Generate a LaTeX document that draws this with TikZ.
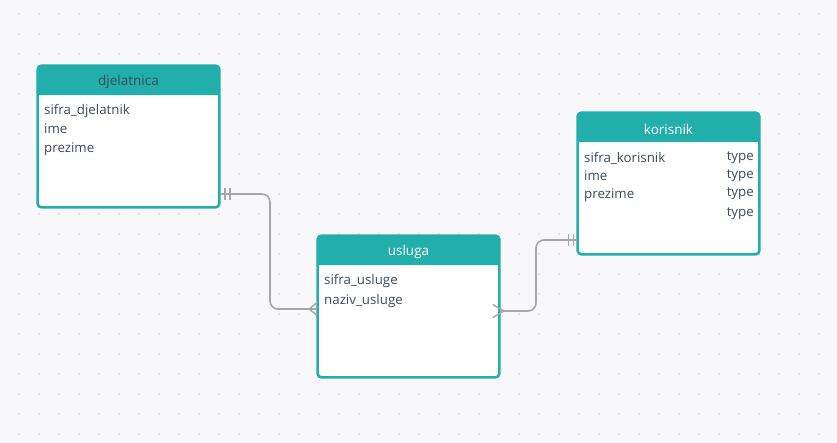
\documentclass[tikz,border=0pt]{standalone}
\usepackage{fontspec}
\setmainfont{Open Sans}
\begin{document}
\definecolor{bgcol}{HTML}{F8F8FA}
\definecolor{dotcol}{HTML}{DCDDE2}
\definecolor{tealc}{HTML}{22AFAB}
\definecolor{txtc}{HTML}{3D4A5C}
\definecolor{linkc}{HTML}{A6A6A6}
\begin{tikzpicture}[x=1pt,y=-1pt,
  entity/.style={draw=tealc, line width=1.6pt, rounded corners=4pt, fill=white,
    minimum width=181pt, minimum height=141pt, inner sep=0pt},
  title/.style={font=\fontsize{13.5}{15}\selectfont, text=white},
  field/.style={font=\fontsize{13.3}{15}\selectfont, text=txtc, anchor=west, inner sep=0pt},
  ftype/.style={font=\fontsize{13.3}{15}\selectfont, text=txtc, anchor=east, inner sep=0pt},
  link/.style={draw=linkc, line width=1.6pt, rounded corners=8pt},
  tick/.style={draw=linkc, line width=1.4pt}]
% canvas and dot grid
\fill[bgcol] (0,0) rectangle (837,443);
\useasboundingbox (0,0) rectangle (837,443);
\foreach \gx in {19,39,...,839} {
  \foreach \gy in {14,34,...,434} {
    \fill[dotcol] (\gx,\gy) circle (1.2pt);
  }
}
% entity boxes
\node[entity] (dj) at (128.5,136.5) {};
\node[entity] (ko) at (668.5,183.5) {};
\node[entity] (us) at (408.5,306.5) {};
% teal headers with rounded top corners
\foreach \b in {dj,ko,us} {
  \fill[tealc] ([yshift=-30pt]\b.north west) {[rounded corners=4pt] -- (\b.north west) -- (\b.north east)} -- ([yshift=-30pt]\b.north east) -- cycle;
  \draw[draw=tealc, line width=1.6pt, rounded corners=4pt] (\b.north west) rectangle (\b.south east);
}
% header titles
\node[title, text=txtc] (djt) at ([yshift=-17pt]dj.north) {djelatnica};
\node[title] (kot) at ([yshift=-17pt]ko.north) {korisnik};
\node[title] (ust) at ([yshift=-17pt]us.north) {usluga};
% fields
\node[field] (dj1) at (44,111) {sifra\_djelatnik};
\node[field] (dj2) at (44,129) {ime};
\node[field] (dj3) at (44,149) {prezime};
\node[field] (ko1) at (584,158) {sifra\_korisnik};
\node[field] (ko2) at (584,176) {ime};
\node[field] (ko3) at (584,195) {prezime};
\node[ftype] (kt1) at (754,158) {type};
\node[ftype] (kt2) at (754,176) {type};
\node[ftype] (kt3) at (754,194) {type};
\node[ftype] (kt4) at (754,214) {type};
\node[field] (us1) at (324,281) {sifra\_usluge};
\node[field] (us2) at (324,301) {naziv\_usluge};
% connector end points
\coordinate (a1) at (dj.east |- 0,194);
\coordinate (a2) at (us.west |- 0,309);
\coordinate (b1) at (us.east |- 0,311);
\coordinate (b2) at (ko.west |- 0,240);
% relationship lines
\draw[link] (a1) -- (270,194) -- (270,309) -- (a2);
\draw[link] (b1) -- (536,311) -- (536,240) -- (b2);
% one-and-only-one marks
\draw[tick] ([xshift=5pt,yshift=-6pt]a1) -- ([xshift=5pt,yshift=6pt]a1);
\draw[tick] ([xshift=10pt,yshift=-6pt]a1) -- ([xshift=10pt,yshift=6pt]a1);
\draw[tick] ([xshift=-4pt,yshift=-6pt]b2) -- ([xshift=-4pt,yshift=6pt]b2);
\draw[tick] ([xshift=-9pt,yshift=-6pt]b2) -- ([xshift=-9pt,yshift=6pt]b2);
% crow's feet (many)
\draw[tick] ([yshift=-6.5pt]a2) -- ([xshift=-8pt]a2) -- ([yshift=6.5pt]a2);
\draw[tick] ([xshift=-7pt,yshift=-6.5pt]b1) -- ([xshift=4pt]b1) -- ([xshift=-7pt,yshift=6.5pt]b1);
\end{tikzpicture}
\end{document}
